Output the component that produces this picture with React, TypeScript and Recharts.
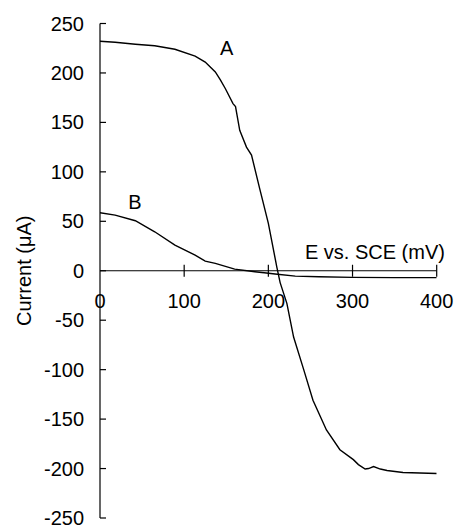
import { Line, LineChart, ReferenceDot, ReferenceLine, XAxis, YAxis } from 'recharts';

// Curve A: potential (mV) and current (µA)
const E_A = [0, 18, 42, 65, 89, 113, 125, 137, 143, 149, 158, 161, 166, 174, 180, 190, 200, 210, 214, 222, 230, 242, 253, 269, 285, 301, 307, 315, 319, 325, 333, 341, 360, 380, 400];
const I_A = [232, 231, 229, 227.5, 224, 217, 211, 201, 193, 184, 169, 166, 142, 125, 117, 82, 48, 4, -12, -33, -67, -100, -131, -161, -181, -191, -196, -200.5, -200, -198, -200.5, -202, -204, -204.5, -205];

// Curve B
const E_B = [0, 18, 42, 65, 89, 113, 125, 137, 160, 184, 208, 232, 260, 300, 350, 400];
const I_B = [58.6, 56.3, 50.6, 39.4, 26, 15.9, 9.8, 7.5, 1.7, -1, -3.3, -5.4, -6, -6.7, -7, -7];

const X_TICKS = [0, 100, 200, 300, 400];
const Y_TICKS = [-250, -200, -150, -100, -50, 0, 50, 100, 150, 200, 250];

const WIDTH = 447;
const HEIGHT = 519;
const Y_WIDTH = 92;
const X_HEIGHT = 1;
const MARGIN = { top: 15.5, right: 18.3, bottom: 8, left: 0 };
const PLOT_H = HEIGHT - MARGIN.top - MARGIN.bottom - X_HEIGHT;
// x axis sits at current = 0, halfway up the symmetric y domain
const ZERO_Y = MARGIN.top + PLOT_H / 2;
const AXIS_X = MARGIN.left + Y_WIDTH;
const FONT = 20;

const seriesA = E_A.map((e, i) => ({ e, i: I_A[i] }));
const seriesB = E_B.map((e, i) => ({ e, i: I_B[i] }));

function XTick({ x, payload }: any) {
  return (
    <g>
      {payload.value !== 0 && <line x1={x} x2={x} y1={ZERO_Y - 6} y2={ZERO_Y + 6} stroke="#000" strokeWidth={1.2} />}
      <text x={x} y={ZERO_Y + 30} textAnchor="middle" dominantBaseline="central" fill="#000" fontSize={FONT}>
        {payload.value}
      </text>
    </g>
  );
}

function YTick({ y, payload }: any) {
  return (
    <g>
      <line x1={AXIS_X} x2={AXIS_X + 6} y1={y} y2={y} stroke="#000" strokeWidth={1.2} />
      <text x={AXIS_X - 16} y={y} textAnchor="end" dominantBaseline="central" fill="#000" fontSize={FONT}>
        {payload.value}
      </text>
    </g>
  );
}

function YLabel() {
  const cx = MARGIN.left + 16;
  const cy = ZERO_Y;
  return (
    <text
      x={cx}
      y={cy}
      transform={`rotate(-90 ${cx} ${cy})`}
      textAnchor="middle"
      dominantBaseline="central"
      fill="#000"
      fontSize={FONT}
    >
      Current (μA)
    </text>
  );
}

const textLabel = (value: string) => ({ value, position: 'center' as const, fill: '#000', fontSize: FONT });

export default function App() {
  // fixed so the page never grows a scrollbar (body margin + chart would exceed 527px)
  return (
    <div style={{ position: 'fixed', left: 8, top: 8, fontFamily: '"Liberation Sans", Arial, sans-serif', background: '#fff' }}>
      <LineChart width={WIDTH} height={HEIGHT} margin={MARGIN} style={{ overflow: 'visible' }}>
        <XAxis
          dataKey="e"
          type="number"
          domain={[0, 400]}
          ticks={X_TICKS}
          interval={0}
          height={X_HEIGHT}
          axisLine={false}
          tickLine={false}
          tick={<XTick />}
          allowDataOverflow
        />
        <YAxis
          type="number"
          domain={[-250, 250]}
          ticks={Y_TICKS}
          interval={0}
          width={Y_WIDTH}
          axisLine={{ stroke: '#000', strokeWidth: 1.2 }}
          tickLine={false}
          tick={<YTick />}
          label={<YLabel />}
          allowDataOverflow
        />
        <ReferenceLine y={0} stroke="#000" strokeWidth={1.2} />
        <Line data={seriesA} dataKey="i" type="linear" stroke="#000" strokeWidth={1.4} dot={false} isAnimationActive={false} />
        <Line data={seriesB} dataKey="i" type="linear" stroke="#000" strokeWidth={1.4} dot={false} isAnimationActive={false} />
        <ReferenceDot x={150.5} y={225.7} r={0} label={textLabel('A')} />
        <ReferenceDot x={41.6} y={69.8} r={0} label={textLabel('B')} />
        <ReferenceDot x={326.6} y={19.2} r={0} label={textLabel('E vs. SCE (mV)')} />
      </LineChart>
    </div>
  );
}
